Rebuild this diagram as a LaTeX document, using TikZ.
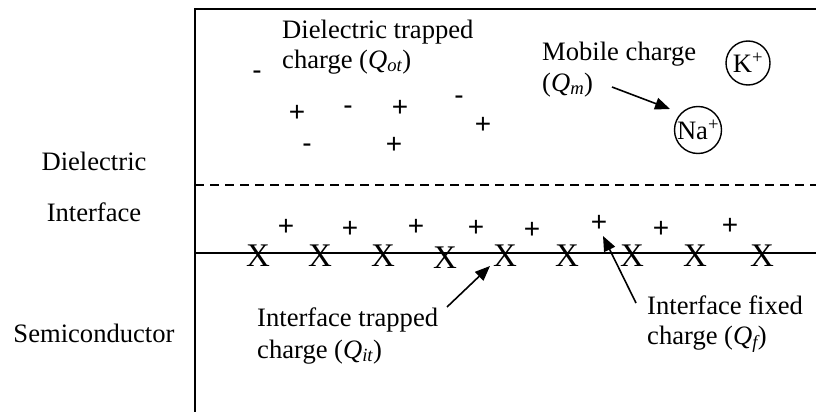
\documentclass[tikz,border=0pt]{standalone}
\usepackage{fontspec}
\setmainfont{Liberation Serif}
\newfontfamily\sgnfont{Liberation Sans}
\usetikzlibrary{arrows.meta}
\begin{document}
\begin{tikzpicture}[x=1pt,y=-1pt,
  txt/.style={font=\fontsize{26.6}{31}\selectfont, inner sep=0pt, anchor=base west},
  lbl/.style={font=\fontsize{26.6}{31}\selectfont, inner sep=0pt, anchor=base},
  sgn/.style={font=\sgnfont\fontsize{28}{28}\selectfont, inner sep=0pt, anchor=center},
  xs/.style={font=\fontsize{33}{33}\selectfont, inner sep=0pt, anchor=center},
  ion/.style={circle, draw, line width=1.4pt, inner sep=0pt, minimum size=47pt, font=\fontsize{26.6}{31}\selectfont},
  frame/.style={line width=1.8pt},
  arr/.style={line width=1.6pt, -{Triangle[length=15pt,width=12pt]}}
]
\useasboundingbox (0,0) rectangle (816,412);
% frame
\coordinate (tl) at (195,9);
\coordinate (tr) at (816,9);
\coordinate (bl) at (195,412);
\coordinate (dl) at (195,185);
\coordinate (dr) at (816,185);
\coordinate (sl) at (195,253);
\coordinate (sr) at (816,253);
\draw[frame] (tr) -- (tl) -- (bl);
\draw[line width=1.2pt, dash pattern=on 9pt off 6pt] (dl) -- (dr);
\draw[frame] (sl) -- (sr);
% region labels
\node[lbl] (ldiel) at (94,170) {Dielectric};
\node[lbl] (lint) at (94,221) {Interface};
\node[lbl] (lsemi) at (94,342) {Semiconductor};
% dielectric trapped charge
\node[txt] (dt1) at (282,38) {Dielectric trapped};
\node[txt] (dt2) at (282,68) {charge (\textit{Q\textsubscript{ot}})};
\node[sgn] (d1) at (257,75) {-};
\node[sgn] (d2) at (297,113) {+};
\node[sgn] (d3) at (348,110) {-};
\node[sgn] (d4) at (400,108) {+};
\node[sgn] (d5) at (459,100) {-};
\node[sgn] (d6) at (483,125) {+};
\node[sgn] (d7) at (307,148) {-};
\node[sgn] (d8) at (394,145) {+};
% mobile charge
\node[txt] (mc1) at (542,60) {Mobile charge};
\node[txt] (mc2) at (542,91) {(\textit{Q\textsubscript{m}})};
\node[ion, minimum size=44pt] (k) at (748,63) {K\textsuperscript{+}};
\node[ion] (na) at (698,130) {Na\textsuperscript{+}};
\coordinate (mtail) at (612,87);
\coordinate (mtip) at (670,109);
\draw[arr] (mtail) -- (mtip);
% interface fixed charges
\node[sgn] (p1) at (286,227) {+};
\node[sgn] (p2) at (350,229) {+};
\node[sgn] (p3) at (416,227) {+};
\node[sgn] (p4) at (476,228) {+};
\node[sgn] (p5) at (532,230) {+};
\node[sgn] (p6) at (599,223) {+};
\node[sgn] (p7) at (661,229) {+};
\node[sgn] (p8) at (730,226) {+};
% interface traps
\node[xs] (x1) at (258,256) {X};
\node[xs] (x2) at (320,256) {X};
\node[xs] (x3) at (383,256) {X};
\node[xs] (x4) at (445,258) {X};
\node[xs] (x5) at (505,256) {X};
\node[xs] (x6) at (567,256) {X};
\node[xs] (x7) at (632,256) {X};
\node[xs] (x8) at (695,256) {X};
\node[xs] (x9) at (762,256) {X};
% interface trapped charge
\node[txt] (it1) at (257,326) {Interface trapped};
\node[txt] (it2) at (257,358) {charge (\textit{Q\textsubscript{it}})};
\coordinate (ttail) at (447,307);
\coordinate (ttip) at (490,266);
\draw[arr] (ttail) -- (ttip);
% interface fixed charge
\node[txt] (if1) at (647,314) {Interface fixed};
\node[txt] (if2) at (647,344) {charge (\textit{Q\textsubscript{f}})};
\coordinate (ftail) at (636,303);
\coordinate (ftip) at (603,236);
\draw[arr] (ftail) -- (ftip);
\end{tikzpicture}
\end{document}
